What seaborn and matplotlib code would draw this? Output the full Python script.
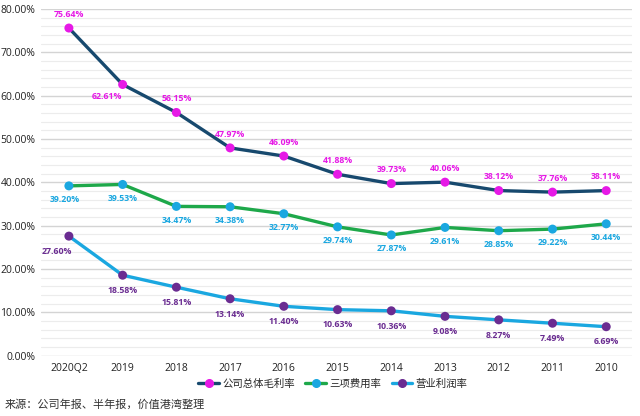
import matplotlib
matplotlib.use("Agg")
import matplotlib.pyplot as plt
import seaborn as sns
import pandas as pd
from matplotlib.lines import Line2D
from matplotlib.ticker import MultipleLocator, FuncFormatter

categories = ["2020Q2", "2019", "2018", "2017", "2016", "2015", "2014", "2013", "2012", "2011", "2010"]
gross_margin = [75.64, 62.61, 56.15, 47.97, 46.09, 41.88, 39.73, 40.06, 38.12, 37.76, 38.11]
expense_rate = [39.20, 39.53, 34.47, 34.38, 32.77, 29.74, 27.87, 29.61, 28.85, 29.22, 30.44]
op_margin = [27.60, 18.58, 15.81, 13.14, 11.40, 10.63, 10.36, 9.08, 8.27, 7.49, 6.69]
series_names = ["公司总体毛利率", "三项费用率", "营业利润率"]
source_text = "来源：公司年报、半年报，价值港湾整理"

sns.set_theme(style="white")
plt.rcParams['font.family'] = ['Open Sans', 'Noto Sans CJK SC', 'DejaVu Sans']

fig = plt.figure(figsize=(6.4, 4.16), dpi=100)
ax = fig.add_axes([0.064, 0.145, 0.9235, 0.833])

df = pd.DataFrame({"cat": categories, "g": gross_margin, "e": expense_rate, "o": op_margin})
df["x"] = range(len(categories))

styles = [
    ("g", "#17496e", "#e619e6", "#e619e6"),
    ("e", "#1ea84a", "#1aa7e0", "#1aa7e0"),
    ("o", "#1aa7e0", "#6a2c91", "#6a2c91"),
]

for col, lc, mc, tc in styles:
    sns.lineplot(data=df, x="x", y=col, ax=ax, color=lc, linewidth=2.4, sort=False, zorder=2)
    sns.scatterplot(data=df, x="x", y=col, ax=ax, color=mc, s=42, edgecolor="none", zorder=3)

# labels
for i, v in enumerate(gross_margin):
    dx, dy = 0, 10
    if i == 1:
        dx, dy = -11, -9
    ax.annotate(f"{v:.2f}%", (i, v), xytext=(dx, dy), textcoords="offset points",
                ha="center", va="center", fontsize=6.3, fontweight="bold", color="#e619e6")
for i, v in enumerate(expense_rate):
    dx = -3 if i == 0 else 0
    ax.annotate(f"{v:.2f}%", (i, v), xytext=(dx, -10), textcoords="offset points",
                ha="center", va="center", fontsize=6.3, fontweight="bold", color="#1aa7e0")
for i, v in enumerate(op_margin):
    dx = -9 if i == 0 else 0
    ax.annotate(f"{v:.2f}%", (i, v), xytext=(dx, -11), textcoords="offset points",
                ha="center", va="center", fontsize=6.3, fontweight="bold", color="#6a2c91")

ax.set_xlim(-0.52, 10.48)
ax.set_ylim(0, 80)
ax.set_xticks(range(len(categories)))
ax.set_xticklabels(categories)
ax.yaxis.set_major_locator(MultipleLocator(10))
ax.yaxis.set_minor_locator(MultipleLocator(2))
ax.yaxis.set_major_formatter(FuncFormatter(lambda v, p: f"{v:.2f}%"))
ax.grid(which="major", axis="y", color="#d4d4d4", linewidth=1.0)
ax.grid(which="minor", axis="y", color="#ececec", linewidth=0.8)
ax.set_axisbelow(True)
for s in ax.spines.values():
    s.set_visible(False)
ax.tick_params(axis="both", which="both", length=0, labelsize=7.5, colors="#222222")
ax.tick_params(axis="x", pad=5)
ax.tick_params(axis="y", pad=4)
ax.set_xlabel("")
ax.set_ylabel("")

handles = [Line2D([0], [0], color=lc, linewidth=2.4, marker="o", markersize=5.5,
                  markerfacecolor=mc, markeredgecolor=mc) for _, lc, mc, _ in styles]
fig.legend(handles, series_names, loc="center", bbox_to_anchor=(0.52, 0.077), ncol=3,
           frameon=False, handlelength=2.0, columnspacing=1.0, handletextpad=0.3,
           prop={'family': ['Noto Sans CJK SC', 'DejaVu Sans'], 'size': 7.5})

fig.text(0.008, 0.027, source_text, fontsize=8, color="#333333",
         family=['Noto Sans CJK SC', 'DejaVu Sans'], va="center", ha="left")

fig.savefig("out.png", dpi=100)
